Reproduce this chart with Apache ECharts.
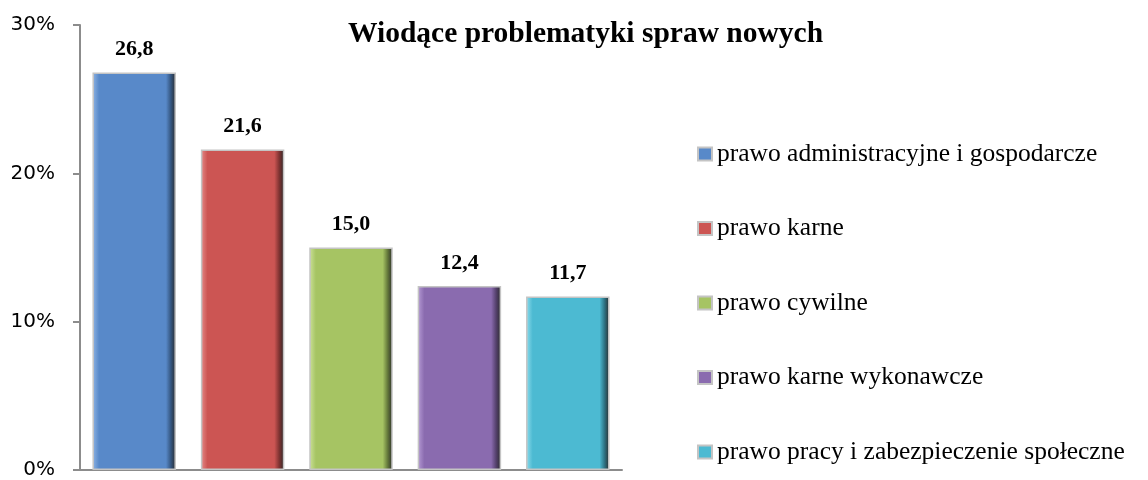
<!DOCTYPE html>
<html>
<head>
<meta charset="utf-8">
<script src="https://cdn.jsdelivr.net/npm/echarts@6/dist/echarts.min.js"></script>
<style>
html,body{margin:0;padding:0;background:#fff;}
#chart{width:1148px;height:480px;}
</style>
</head>
<body>
<div id="chart"></div>
<script>
const categories = [
  'prawo administracyjne i gospodarcze',
  'prawo karne',
  'prawo cywilne',
  'prawo karne wykonawcze',
  'prawo pracy i zabezpieczenie społeczne'
];
const values = [26.8, 21.6, 15.0, 12.4, 11.7];
const yTicks = [0, 10, 20, 30];
const titleText = 'Wiodące problematyki spraw nowych';

const palette = [
  ['#8fb4e4', '#5889c9', '#34557f'],
  ['#e68a88', '#cc5553', '#7d3231'],
  ['#cce29a', '#a6c463', '#63773a'],
  ['#b79cd6', '#8a6baf', '#54406c'],
  ['#8fdcec', '#4cbad2', '#2d7283']
];

function grad(c) {
  return new echarts.graphic.LinearGradient(0, 0, 1, 0, [
    { offset: 0, color: c[0] },
    { offset: 0.08, color: c[1] },
    { offset: 0.88, color: c[1] },
    { offset: 0.94, color: c[2] },
    { offset: 1, color: '#2a2a2a' }
  ]);
}

const series = categories.map((name, i) => ({
  name: name,
  type: 'bar',
  stack: 'all',
  barWidth: '77%',
  data: values.map((v, j) => (j === i ? v : '-')),
  itemStyle: {
    color: grad(palette[i]),
    borderColor: '#c4c4c4',
    borderWidth: 1.5
  },
  label: {
    show: true,
    position: 'top',
    distance: 12,
    fontFamily: 'Liberation Serif',
    fontWeight: 'bold',
    fontSize: 22,
    color: '#000',
    formatter: p => (typeof p.value === 'number' ? p.value.toFixed(1).replace('.', ',') : '')
  }
}));

const chart = echarts.init(document.getElementById('chart'));
chart.setOption({
  animation: false,
  backgroundColor: '#fff',
  title: {
    text: titleText,
    left: 343,
    top: 14,
    textStyle: {
      fontFamily: 'Liberation Serif',
      fontWeight: 'bold',
      fontSize: 29.5,
      color: '#000'
    }
  },
  legend: {
    orient: 'vertical',
    left: 692,
    top: 136,
    itemWidth: 14,
    itemHeight: 13,
    itemGap: 48.5,
    icon: 'rect',
    data: categories,
    textStyle: {
      fontFamily: 'Liberation Serif',
      fontSize: 25.5,
      lineHeight: 25,
      color: '#000'
    }
  },
  grid: { left: 80, right: 526, top: 25, bottom: 8, containLabel: false },
  xAxis: {
    type: 'category',
    data: categories,
    axisLine: { show: true, lineStyle: { color: '#8c8c8c', width: 2 } },
    axisTick: { show: false },
    axisLabel: { show: false },
    splitLine: { show: false }
  },
  yAxis: {
    type: 'value',
    min: yTicks[0],
    max: yTicks[yTicks.length - 1],
    interval: 10,
    axisLine: { show: true, lineStyle: { color: '#8c8c8c', width: 2 } },
    axisTick: { show: true, length: 7, lineStyle: { color: '#8c8c8c', width: 2 } },
    splitLine: { show: false },
    axisLabel: {
      margin: 25,
      fontFamily: 'DejaVu Sans',
      fontSize: 20,
      color: '#000',
      formatter: '{value}%'
    }
  },
  series: series
});
</script>
</body>
</html>
